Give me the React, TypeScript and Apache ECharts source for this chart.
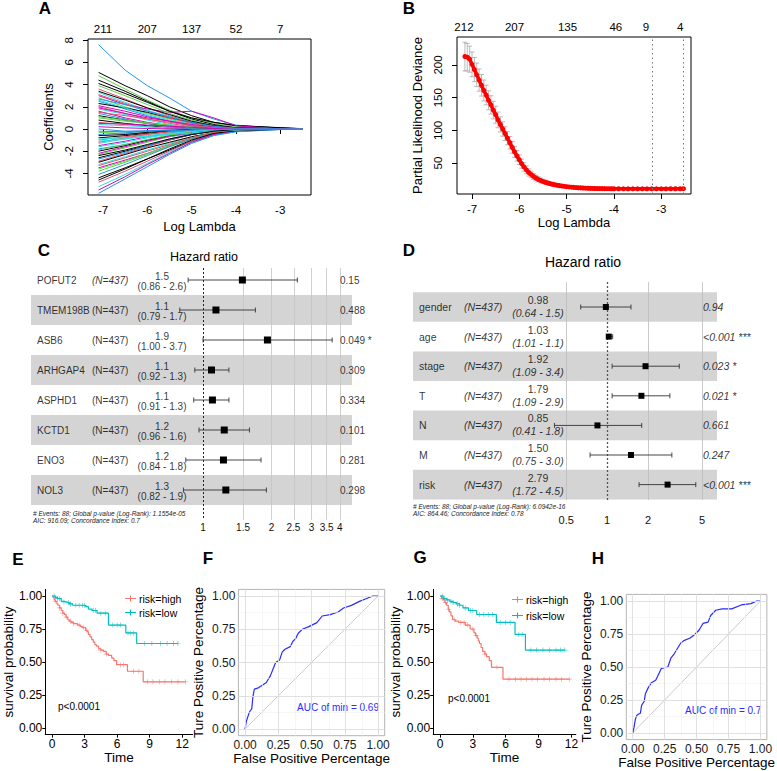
import React, { useEffect, useRef } from "react";
import * as echarts from "echarts";

const FONT = "'Liberation Sans', Arial, Helvetica, sans-serif";

/* ---------------- Panel A: LASSO coefficient paths ---------------- */
const lassoLogLambda = [-7.1, -6.5, -6.0, -5.5, -5.0, -4.5, -4.0, -3.0, -2.5];
const lassoPaths: number[][] = [
  [7.6, 5.3, 3.9, 2.8, 1.6, 0.9, 0.35, 0.08, 0],
  [5.1, 3.9, 3.0, 2.0, 1.2, 0.6, 0.3, 0.1, 0.02],
  [4.8, 3.6, 2.6, 1.7, 1.0, 0.5, 0.2, 0.05, 0],
  [4.1, 3.2, 2.4, 1.6, 1.0, 0.6, 0.3, 0.12, 0.03],
  [3.6, 2.7, 1.9, 1.2, 0.6, 0.2, 0.05, 0, 0],
  [3.3, 2.4, 1.7, 1.1, 0.5, 0.15, 0, 0, 0],
  [3.0, 2.2, 1.8, 1.5, 1.6, 1.0, 0.3, 0, 0],
  [2.8, 2.0, 1.4, 0.9, 0.4, 0.1, 0, 0, 0],
  [2.5, 1.8, 1.2, 0.7, 0.3, 0.05, 0, 0, 0],
  [2.3, 1.9, 1.5, 1.0, 0.6, 0.3, 0.1, 0, 0],
  [2.0, 1.4, 0.9, 0.5, 0.2, 0, 0, 0, 0],
  [1.8, 1.3, 0.8, 0.4, 0.1, 0, 0, 0, 0],
  [1.6, 1.0, 0.6, 0.3, 0.05, 0, 0, 0, 0],
  [1.4, 0.9, 0.5, 0.2, 0, 0, 0, 0, 0],
  [1.2, 0.8, 0.5, 0.3, 0.1, 0, 0, 0, 0],
  [1.0, 0.7, 0.5, 0.35, 0.2, 0.1, 0.05, 0, 0],
  [0.8, 0.5, 0.3, 0.1, 0, 0, 0, 0, 0],
  [0.6, 0.4, 0.2, 0.05, 0, 0, 0, 0, 0],
  [0.4, 0.3, 0.2, 0.1, 0, 0, 0, 0, 0],
  [0.2, 0.1, 0.05, 0, 0, 0, 0, 0, 0],
  [-0.3, -0.4, -0.35, -0.3, -0.2, -0.1, -0.05, 0, 0],
  [-0.5, -0.35, -0.2, -0.1, 0, 0, 0, 0, 0],
  [-0.8, -0.6, -0.4, -0.2, -0.05, 0, 0, 0, 0],
  [-1.0, -0.7, -0.45, -0.25, -0.1, 0, 0, 0, 0],
  [-1.3, -0.9, -0.6, -0.35, -0.15, 0, 0, 0, 0],
  [-1.5, -1.1, -0.7, -0.4, -0.15, 0, 0, 0, 0],
  [-1.8, -1.4, -1.0, -0.7, -0.4, -0.2, -0.08, 0, 0],
  [-2.0, -1.5, -1.0, -0.6, -0.25, -0.05, 0, 0, 0],
  [-2.3, -1.7, -1.2, -0.7, -0.3, -0.05, 0, 0, 0],
  [-2.6, -2.0, -1.5, -1.0, -0.5, -0.2, -0.05, 0, 0],
  [-2.9, -2.2, -1.6, -1.0, -0.5, -0.15, 0, 0, 0],
  [-3.2, -2.5, -1.9, -1.3, -0.7, -0.3, -0.1, 0, 0],
  [-3.5, -2.8, -2.2, -1.5, -0.9, -0.4, -0.2, -0.05, 0],
  [-3.8, -3.0, -2.3, -1.6, -0.9, -0.4, -0.15, 0, 0],
  [-4.1, -3.2, -2.4, -1.6, -0.9, -0.35, -0.1, 0, 0],
  [-4.4, -3.5, -2.7, -1.9, -1.1, -0.5, -0.2, -0.03, 0],
  [-4.8, -3.8, -2.9, -2.0, -1.1, -0.45, -0.15, 0, 0],
  [-5.2, -4.1, -3.1, -2.1, -1.2, -0.55, -0.25, -0.05, 0],
  [-5.5, -4.3, -3.2, -2.2, -1.2, -0.5, -0.2, 0, 0],
  [-5.8, -4.5, -3.4, -2.3, -1.3, -0.6, -0.25, -0.03, 0],
  [4.4, 3.4, 2.5, 1.6, 0.9, 0.4, 0.1, 0, 0],
  [3.9, 3.0, 2.2, 1.4, 0.8, 0.3, 0.05, 0, 0],
  [3.4, 2.6, 1.9, 1.3, 0.7, 0.3, 0.1, 0, 0],
  [3.1, 2.3, 1.6, 1.0, 0.5, 0.2, 0.05, 0, 0],
  [2.6, 1.9, 1.3, 0.8, 0.4, 0.1, 0, 0, 0],
  [1.9, 1.4, 1.0, 0.7, 0.4, 0.2, 0.1, 0.03, 0],
  [1.1, 0.8, 0.55, 0.3, 0.1, 0, 0, 0, 0],
  [0.0, -0.2, -0.15, -0.1, 0, 0, 0, 0, 0],
  [-0.6, -0.5, -0.3, -0.15, -0.05, 0, 0, 0, 0],
  [-1.2, -0.8, -0.5, -0.25, -0.08, 0, 0, 0, 0],
  [-1.6, -1.2, -0.8, -0.45, -0.2, -0.05, 0, 0, 0],
  [-2.2, -1.6, -1.1, -0.65, -0.3, -0.1, 0, 0, 0],
  [-2.7, -2.1, -1.5, -0.9, -0.45, -0.15, 0, 0, 0],
  [-3.0, -2.3, -1.7, -1.2, -0.7, -0.35, -0.15, -0.02, 0],
  [-3.6, -2.9, -2.2, -1.5, -0.8, -0.3, -0.05, 0, 0],
  [-4.6, -3.6, -2.7, -1.8, -1.0, -0.4, -0.1, 0, 0],
  [-3.3, -2.6, -2.0, -1.4, -0.8, -0.3, -0.1, 0, 0],
  [-0.9, -0.8, -0.7, -0.5, -0.35, -0.2, -0.1, 0, 0],
  [2.1, 1.6, 1.1, 0.7, 0.3, 0.05, 0, 0, 0],
  [-1.9, -1.4, -0.95, -0.55, -0.25, -0.05, 0, 0, 0],
  [2.7, 2.2, 1.6, 1.1, 0.6, 0.25, 0.05, 0, 0],
  [-2.4, -1.9, -1.4, -0.9, -0.5, -0.2, -0.05, 0, 0],
  [1.5, 1.2, 0.9, 0.6, 0.3, 0.1, 0, 0, 0],
  [-1.1, -0.9, -0.65, -0.4, -0.2, -0.05, 0, 0, 0],
  [0.5, 0.45, 0.35, 0.25, 0.15, 0.05, 0, 0, 0],
  [-0.2, -0.25, -0.2, -0.15, -0.1, -0.05, 0, 0, 0],
];
const lassoPalette = ["#2297E6", "#000000", "#61D04F", "#000000", "#DF536B", "#28E2E5", "#CD0BBC", "#61D04F", "#2297E6", "#000000", "#DF536B", "#28E2E5", "#CD0BBC"];
const lassoTicks = [-7, -6, -5, -4, -3];
const lassoDfLabels = ["211", "207", "137", "52", "7"];
const lassoYTicks = [-4, -2, 0, 2, 4, 6, 8];

/* ---------------- Panel B: CV deviance ---------------- */
const cvLogLambda = [
  -7.15, -7.1, -7.05, -7.0, -6.95, -6.9, -6.85, -6.8, -6.75, -6.7, -6.65, -6.6, -6.55, -6.5, -6.45, -6.4,
  -6.35, -6.3, -6.25, -6.2, -6.15, -6.1, -6.05, -6.0, -5.95, -5.9, -5.85, -5.8, -5.75, -5.7, -5.65, -5.6,
  -5.55, -5.5, -5.45, -5.4, -5.35, -5.3, -5.25, -5.2, -5.15, -5.1, -5.05, -5.0, -4.95, -4.9, -4.85, -4.8,
  -4.75, -4.7, -4.65, -4.6, -4.55, -4.5, -4.45, -4.4, -4.35, -4.3, -4.25, -4.2, -4.15, -4.1, -4.05, -4.0,
  -3.9, -3.8, -3.7, -3.6, -3.5, -3.4, -3.3, -3.2, -3.1, -3.0, -2.9, -2.8, -2.7, -2.6, -2.53,
];
const cvDeviance = [
  213, 212, 209, 201, 193, 185, 177, 169, 161, 154, 146, 139, 131, 124, 116, 109,
  102, 95, 88, 81, 74, 67, 61, 55, 49, 44, 39.5, 35.5, 32.5, 29.5, 27, 25,
  23.3, 21.8, 20.5, 19.4, 18.4, 17.5, 16.7, 16.0, 15.4, 14.8, 14.3, 13.8, 13.4, 13.0, 12.7, 12.4,
  12.1, 11.9, 11.7, 11.5, 11.4, 11.2, 11.1, 11.0, 10.9, 10.85, 10.8, 10.75, 10.7, 10.65, 10.6, 10.6,
  10.55, 10.5, 10.5, 10.5, 10.45, 10.45, 10.45, 10.45, 10.5, 10.5, 10.5, 10.55, 10.6, 10.6, 10.65,
];
const cvSE = [
  22, 21, 20, 19, 18.5, 18, 17, 16.5, 16, 15, 14.5, 14, 13.5, 13, 12, 11.5,
  11, 10.5, 10, 9.5, 9, 8.5, 8, 7.5, 7, 6.5, 6, 5.5, 5, 4.5, 4.2, 3.9,
  3.6, 3.3, 3.0, 2.8, 2.6, 2.4, 2.2, 2.0, 1.9, 1.8, 1.7, 1.6, 1.5, 1.4, 1.35, 1.3,
  1.25, 1.2, 1.2, 1.15, 1.1, 1.1, 1.05, 1.0, 1.0, 1.0, 1.0, 1.0, 1.0, 1.0, 1.0, 1.0,
  1.0, 1.0, 1.0, 1.0, 1.0, 1.0, 1.0, 1.0, 1.0, 1.0, 1.0, 1.0, 1.0, 1.0, 1.0,
];
const cvTicks = [-7, -6, -5, -4, -3];
const cvDfPositions = [-7.17, -6.1, -4.98, -3.96, -3.32, -2.6];
const cvDfLabels = ["212", "207", "135", "46", "9", "4"];
const cvYTicks = [50, 100, 150, 200];
const cvLambdaMin = -3.19;
const cvLambda1se = -2.53;

/* ---------------- Panel C: forest (genes) ---------------- */
const genesC = ["POFUT2", "TMEM198B", "ASB6", "ARHGAP4", "ASPHD1", "KCTD1", "ENO3", "NOL3"];
const hrC = [1.49, 1.14, 1.92, 1.09, 1.1, 1.24, 1.23, 1.26];
const loC = [0.86, 0.79, 1.0, 0.92, 0.91, 0.96, 0.84, 0.82];
const hiC = [2.6, 1.7, 3.7, 1.3, 1.3, 1.6, 1.8, 1.9];
const hrTextC = ["1.5", "1.1", "1.9", "1.1", "1.1", "1.2", "1.2", "1.3"];
const ciTextC = ["(0.86 - 2.6)", "(0.79 - 1.7)", "(1.00 - 3.7)", "(0.92 - 1.3)", "(0.91 - 1.3)", "(0.96 - 1.6)", "(0.84 - 1.8)", "(0.82 - 1.9)"];
const pTextC = ["0.15", "0.488", "0.049 *", "0.309", "0.334", "0.101", "0.281", "0.298"];
const nTextC = "(N=437)";
const hrTicksC = [1, 1.5, 2, 2.5, 3, 3.5, 4];
const footC = ["# Events: 88; Global p-value (Log-Rank): 1.1554e-05", "AIC: 916.09; Concordance Index: 0.7"];

/* ---------------- Panel D: forest (clinical) ---------------- */
const varsD = ["gender", "age", "stage", "T", "N", "M", "risk"];
const hrD = [0.98, 1.03, 1.92, 1.79, 0.85, 1.5, 2.79];
const loD = [0.64, 1.01, 1.09, 1.09, 0.41, 0.75, 1.72];
const hiD = [1.5, 1.1, 3.4, 2.9, 1.8, 3.0, 4.5];
const hrTextD = ["0.98", "1.03", "1.92", "1.79", "0.85", "1.50", "2.79"];
const ciTextD = ["(0.64 - 1.5)", "(1.01 - 1.1)", "(1.09 - 3.4)", "(1.09 - 2.9)", "(0.41 - 1.8)", "(0.75 - 3.0)", "(1.72 - 4.5)"];
const pTextD = ["0.94", "<0.001 ***", "0.023 *", "0.021 *", "0.661", "0.247", "<0.001 ***"];
const nTextD = "(N=437)";
const hrTicksD = [0.5, 1, 2, 5];
const footD = ["# Events: 88; Global p-value (Log-Rank): 6.0942e-16", "AIC: 864.46; Concordance Index: 0.78"];

/* ---------------- Panels E, G: Kaplan-Meier ---------------- */
const kmTicksX = [0, 3, 6, 9, 12];
const kmTicksY = [0, 0.25, 0.5, 0.75, 1];
const eHighT = [0, 0.1, 0.2, 0.3, 0.45, 0.55, 0.7, 0.85, 1.0, 1.15, 1.3, 1.45, 1.6, 1.75, 2.0, 2.35, 2.6, 2.8, 3.1, 3.25, 3.35, 3.5, 3.65, 3.8, 3.95, 4.1, 4.3, 4.5, 4.75, 5.0, 5.2, 5.5, 5.7, 5.95, 6.95, 8.4, 12.3];
const eHighS = [1, 0.99, 0.97, 0.96, 0.94, 0.93, 0.91, 0.89, 0.87, 0.86, 0.84, 0.82, 0.81, 0.8, 0.79, 0.78, 0.77, 0.76, 0.74, 0.73, 0.71, 0.69, 0.67, 0.65, 0.63, 0.62, 0.6, 0.59, 0.58, 0.56, 0.55, 0.53, 0.51, 0.48, 0.43, 0.35, 0.35];
const eLowT = [0, 0.3, 0.5, 0.85, 1.1, 1.3, 1.6, 1.9, 3.1, 3.35, 3.7, 4.15, 5.2, 6.8, 7.8, 11.6];
const eLowS = [1, 0.99, 0.98, 0.96, 0.955, 0.95, 0.94, 0.93, 0.92, 0.9, 0.89, 0.87, 0.78, 0.72, 0.64, 0.64];
const eHighCens = [0.3, 0.7, 1.0, 1.3, 1.7, 2.0, 2.5, 2.9, 3.2, 4.5, 5.0, 6.3, 6.6, 7.5, 8.0, 8.8, 9.3, 9.9, 10.4, 11.0, 11.6, 12.3];
const eLowCens = [0.2, 0.5, 0.7, 1.1, 1.5, 1.7, 2.2, 2.5, 2.8, 3.0, 3.8, 4.0, 4.5, 4.9, 5.6, 6.0, 6.3, 7.0, 7.2, 7.5, 8.5, 9.2, 10.0, 10.6, 11.2, 11.6];
const gHighT = [0, 0.15, 0.3, 0.45, 0.6, 0.75, 0.85, 1.0, 1.15, 1.4, 1.7, 2.3, 2.75, 3.1, 3.25, 3.4, 3.5, 3.6, 3.75, 3.9, 4.1, 4.25, 4.5, 4.7, 5.75, 11.8];
const gHighS = [1, 0.98, 0.97, 0.95, 0.93, 0.9, 0.88, 0.85, 0.82, 0.81, 0.8, 0.78, 0.75, 0.72, 0.7, 0.68, 0.66, 0.64, 0.61, 0.58, 0.56, 0.54, 0.51, 0.46, 0.37, 0.37];
const gLowT = [0, 0.3, 0.6, 0.9, 1.2, 1.5, 1.8, 2.1, 2.6, 3.35, 5.15, 6.85, 7.8, 11.4];
const gLowS = [1, 0.98, 0.97, 0.96, 0.95, 0.94, 0.93, 0.91, 0.89, 0.86, 0.8, 0.71, 0.59, 0.59];
const gHighCens = [0.2, 0.5, 0.8, 1.3, 1.9, 2.2, 2.5, 3.0, 3.3, 4.1, 5.2, 6.3, 6.9, 7.4, 7.9, 8.4, 8.9, 9.5, 10.0, 10.6, 11.1, 11.8];
const gLowCens = [0.2, 0.4, 0.7, 1.0, 1.2, 1.6, 1.8, 2.3, 2.8, 3.0, 3.6, 4.0, 4.4, 4.8, 5.5, 6.0, 6.4, 7.2, 7.5, 8.3, 8.8, 9.4, 10.0, 10.6, 11.0, 11.4];

/* ---------------- Panels F, H: ROC ---------------- */
const rocTicks = [0, 0.25, 0.5, 0.75, 1];
const rocMinor = [0.125, 0.375, 0.625, 0.875];
const fFpr = [0, 0.005, 0.01, 0.02, 0.03, 0.04, 0.05, 0.055, 0.06, 0.07, 0.1, 0.13, 0.16, 0.19, 0.21, 0.23, 0.26, 0.28, 0.3, 0.34, 0.36, 0.38, 0.4, 0.43, 0.48, 0.54, 0.58, 0.64, 0.7, 0.74, 0.8, 0.86, 0.91, 0.96, 1.0];
const fTpr = [0, 0.03, 0.06, 0.09, 0.12, 0.14, 0.15, 0.2, 0.25, 0.3, 0.31, 0.33, 0.35, 0.4, 0.45, 0.5, 0.52, 0.58, 0.6, 0.62, 0.66, 0.68, 0.72, 0.75, 0.77, 0.8, 0.85, 0.86, 0.88, 0.91, 0.93, 0.96, 0.98, 1.0, 1.0];
const hFpr = [0, 0.01, 0.02, 0.03, 0.04, 0.06, 0.07, 0.09, 0.1, 0.12, 0.145, 0.18, 0.2, 0.225, 0.275, 0.3, 0.325, 0.35, 0.375, 0.4, 0.45, 0.49, 0.52, 0.55, 0.59, 0.61, 0.65, 0.7, 0.775, 0.85, 0.925, 0.97, 1.0];
const hTpr = [0, 0.04, 0.1, 0.13, 0.14, 0.15, 0.21, 0.24, 0.3, 0.34, 0.38, 0.4, 0.44, 0.49, 0.5, 0.57, 0.6, 0.64, 0.68, 0.7, 0.72, 0.75, 0.78, 0.83, 0.84, 0.89, 0.93, 0.94, 0.94, 0.97, 0.98, 1.0, 1.0];
const aucF = "AUC of min = 0.69";
const aucH = "AUC of min = 0.7";

const HIGH = "#F8766D";
const LOW = "#00BFC4";
const ROC_BLUE = "#2b2bff";

function survAt(t: number[], s: number[], x: number) {
  let v = s[0];
  for (let i = 0; i < t.length; i++) if (t[i] <= x) v = s[i];
  return v;
}

const lnFmt = (v: number) => String(Math.round(Math.exp(v) * 10) / 10);

function forestRender(sq: number) {
  return (params: any, api: any) => {
    const y = api.value(3);
    const a = api.coord([api.value(0), y]);
    const b = api.coord([api.value(1), y]);
    const c = api.coord([api.value(2), y]);
    const st = { stroke: "#333", lineWidth: 0.9 };
    return {
      type: "group",
      children: [
        { type: "line", shape: { x1: a[0], y1: a[1], x2: b[0], y2: b[1] }, style: st },
        { type: "line", shape: { x1: a[0], y1: a[1] - 2.5, x2: a[0], y2: a[1] + 2.5 }, style: st },
        { type: "line", shape: { x1: b[0], y1: b[1] - 2.5, x2: b[0], y2: b[1] + 2.5 }, style: st },
        { type: "rect", shape: { x: c[0] - sq / 2, y: c[1] - sq / 2, width: sq, height: sq }, style: { fill: "#000" } },
      ],
    };
  };
}

function textCol(xi: number, yi: number, x: number, texts: string[], opt: any, itemLabel?: (i: number) => any) {
  return {
    type: "scatter",
    xAxisIndex: xi,
    yAxisIndex: yi,
    symbolSize: 0,
    silent: true,
    itemStyle: { color: "rgba(0,0,0,0)" },
    data: texts.map((_, i) => {
      const d: any = { value: [x, i] };
      if (itemLabel) d.label = itemLabel(i);
      return d;
    }),
    label: {
      show: true,
      color: "#000",
      fontFamily: FONT,
      formatter: (p: any) => texts[p.dataIndex],
      ...opt,
    },
    z: 5,
  };
}

function gridLinesSeries(xi: number, yi: number, lines: any[]) {
  return {
    type: "line",
    xAxisIndex: xi,
    yAxisIndex: yi,
    data: [],
    symbol: "none",
    silent: true,
    markLine: { silent: true, symbol: "none", label: { show: false }, data: lines, animation: false },
  };
}

function rocAxes(gi: number) {
  const common = {
    gridIndex: gi,
    type: "value",
    min: -0.05,
    max: 1.05,
    axisLine: { show: false },
    axisTick: { show: true, length: 3, lineStyle: { color: "#b3b3b3" }, customValues: rocTicks },
    axisLabel: { customValues: rocTicks, formatter: (v: number) => v.toFixed(2), fontSize: 12, color: "#1a1a1a", fontFamily: FONT, margin: 3 },
    splitLine: { show: false },
    nameLocation: "middle",
    nameTextStyle: { fontSize: 13.5, fontFamily: FONT, color: "#000" },
  };
  return {
    x: { ...common, name: "False Positive Percentage", nameGap: 16 },
    y: { ...common, name: "Ture Positive Percentage", nameGap: 33 },
  };
}

function rocSeries(xi: number, yi: number, fpr: number[], tpr: number[]) {
  const lines: any[] = [];
  rocMinor.forEach((v) => {
    lines.push({ xAxis: v, lineStyle: { color: "#f0f0f0", width: 0.6, type: "solid" } });
    lines.push({ yAxis: v, lineStyle: { color: "#f0f0f0", width: 0.6, type: "solid" } });
  });
  rocTicks.forEach((v) => {
    lines.push({ xAxis: v, lineStyle: { color: "#dedede", width: 0.9, type: "solid" } });
    lines.push({ yAxis: v, lineStyle: { color: "#dedede", width: 0.9, type: "solid" } });
  });
  return [
    gridLinesSeries(xi, yi, lines),
    {
      type: "line", xAxisIndex: xi, yAxisIndex: yi, symbol: "none", silent: true,
      data: [[0, 0], [1, 1]], lineStyle: { color: "#bdbdbd", width: 0.8 },
    },
    {
      type: "line", xAxisIndex: xi, yAxisIndex: yi, symbol: "none", silent: true,
      data: fpr.map((x, i) => [x, tpr[i]]), lineStyle: { color: ROC_BLUE, width: 1.2 },
    },
  ];
}

function kmAxes(gi: number, xmax: number) {
  const common = {
    gridIndex: gi,
    type: "value",
    axisLine: { show: true, onZero: false, lineStyle: { color: "#000", width: 1 } },
    splitLine: { show: false },
    nameLocation: "middle",
    nameTextStyle: { fontSize: 13.5, fontFamily: FONT, color: "#000" },
  };
  return {
    x: {
      ...common, min: -0.62, max: xmax, name: "Time", nameGap: 15,
      axisTick: { show: true, length: 3, lineStyle: { color: "#000" }, customValues: kmTicksX },
      axisLabel: { customValues: kmTicksX, fontSize: 12, color: "#000", fontFamily: FONT, margin: 3 },
    },
    y: {
      ...common, min: -0.05, max: 1.05, name: "survival probability", nameGap: 25,
      axisTick: { show: true, length: 3, lineStyle: { color: "#000" }, customValues: kmTicksY },
      axisLabel: { customValues: kmTicksY, formatter: (v: number) => v.toFixed(2), fontSize: 12, color: "#000", fontFamily: FONT, margin: 3 },
    },
  };
}

const PLUS = "path://M4.4,0H5.6V4.4H10V5.6H5.6V10H4.4V5.6H0V4.4H4.4Z";

function kmSeries(xi: number, yi: number, hT: number[], hS: number[], lT: number[], lS: number[], hC: number[], lC: number[]) {
  return [
    { type: "line", name: "risk=high", xAxisIndex: xi, yAxisIndex: yi, step: "end", symbol: "none", silent: true, color: HIGH, lineStyle: { color: HIGH, width: 1.2 }, data: hT.map((t, i) => [t, hS[i]]) },
    { type: "line", name: "risk=low", xAxisIndex: xi, yAxisIndex: yi, step: "end", symbol: "none", silent: true, color: LOW, lineStyle: { color: LOW, width: 1.2 }, data: lT.map((t, i) => [t, lS[i]]) },
    { type: "scatter", name: "cens-high", xAxisIndex: xi, yAxisIndex: yi, symbol: PLUS, symbolSize: 5, silent: true, itemStyle: { color: HIGH }, data: hC.map((t) => [t, survAt(hT, hS, t)]) },
    { type: "scatter", name: "cens-low", xAxisIndex: xi, yAxisIndex: yi, symbol: PLUS, symbolSize: 5, silent: true, itemStyle: { color: LOW }, data: lC.map((t) => [t, survAt(lT, lS, t)]) },
  ];
}

function txt(text: string, x: number, y: number, o: any = {}) {
  const align = o.align || "left";
  return {
    type: "text",
    x,
    y,
    silent: true,
    style: {
      text,
      fontSize: o.fontSize || 11,
      fontWeight: o.fontWeight || "normal",
      fontStyle: o.fontStyle || "normal",
      fontFamily: FONT,
      fill: o.fill || "#000",
      align,
      textAlign: align,
      verticalAlign: "middle",
      textVerticalAlign: "middle",
    },
  };
}

function buildOption() {
  const rocF = rocAxes(7);
  const rocH = rocAxes(9);
  const kmE = kmAxes(6, 12.95);
  const kmG = kmAxes(8, 12.4);

  const rAxisLbl = { fontSize: 11.5, color: "#000", fontFamily: FONT };
  const nameStyle = { fontSize: 13, color: "#000", fontFamily: FONT };

  const grid = [
    { left: 88, top: 39, width: 223, height: 156, show: true, borderColor: "#000", borderWidth: 1, backgroundColor: "transparent" },
    { left: 457, top: 37, width: 234, height: 157, show: true, borderColor: "#000", borderWidth: 1, backgroundColor: "transparent" },
    { left: 31, top: 265, width: 321, height: 240 },
    { left: 173.4, top: 268, width: 177.7, height: 252 },
    { left: 413, top: 292.2, width: 304, height: 207.2 },
    { left: 551, top: 282, width: 159.3, height: 218 },
    { left: 42.2, top: 589.4, width: 150.4, height: 145.2 },
    { left: 238.4, top: 589.4, width: 146.3, height: 146.3, show: true, borderColor: "#b3b3b3", borderWidth: 1, backgroundColor: "#fff" },
    { left: 433.2, top: 589.4, width: 142.6, height: 145.2 },
    { left: 626.3, top: 594.4, width: 147.4, height: 145.2, show: true, borderColor: "#b3b3b3", borderWidth: 1, backgroundColor: "#fff" },
  ];

  const xAxis: any[] = [
    {
      gridIndex: 0, type: "value", min: -7.339, max: -2.305, position: "bottom",
      axisLine: { show: false }, splitLine: { show: false },
      axisTick: { show: true, length: 5, lineStyle: { color: "#000" }, customValues: lassoTicks },
      axisLabel: { ...rAxisLbl, customValues: lassoTicks, margin: 9 },
      name: "Log Lambda", nameLocation: "middle", nameGap: 25, nameTextStyle: nameStyle,
    },
    {
      gridIndex: 0, type: "value", min: -7.339, max: -2.305, position: "top",
      axisLine: { show: false }, splitLine: { show: false }, axisTick: { show: false },
      axisLabel: { ...rAxisLbl, customValues: lassoTicks, margin: 4, formatter: (v: number) => lassoDfLabels[lassoTicks.findIndex((t) => Math.abs(t - v) < 1e-6)] },
    },
    {
      gridIndex: 1, type: "value", min: -7.317, max: -2.37, position: "bottom",
      axisLine: { show: false }, splitLine: { show: false },
      axisTick: { show: true, length: 5, lineStyle: { color: "#000" }, customValues: cvTicks },
      axisLabel: { ...rAxisLbl, customValues: cvTicks, margin: 8.5 },
      name: "Log Lambda", nameLocation: "middle", nameGap: 22, nameTextStyle: nameStyle,
    },
    {
      gridIndex: 1, type: "value", min: -7.317, max: -2.37, position: "top",
      axisLine: { show: false }, splitLine: { show: false }, axisTick: { show: false },
      axisLabel: { ...rAxisLbl, customValues: cvDfPositions, margin: 4, formatter: (v: number) => cvDfLabels[cvDfPositions.findIndex((t) => Math.abs(t - v) < 1e-6)] },
    },
    { gridIndex: 2, type: "value", min: 0, max: 321, show: false },
    {
      gridIndex: 3, type: "value", min: -0.3, max: 1.5,
      axisLine: { show: false }, axisTick: { show: false }, splitLine: { show: false },
      axisLabel: { customValues: hrTicksC.map(Math.log), formatter: lnFmt, fontSize: 10, color: "#111", fontFamily: FONT, margin: 2 },
    },
    { gridIndex: 4, type: "value", min: 0, max: 304, show: false },
    {
      gridIndex: 5, type: "value", min: -0.95, max: 1.75,
      axisLine: { show: false }, axisTick: { show: false }, splitLine: { show: false },
      axisLabel: { customValues: hrTicksD.map(Math.log), formatter: lnFmt, fontSize: 11, color: "#111", fontFamily: FONT, margin: 14 },
    },
    kmE.x,
    rocF.x,
    kmG.x,
    rocH.x,
  ];

  const yAxis: any[] = [
    {
      gridIndex: 0, type: "value", min: -5.95, max: 8.11,
      axisLine: { show: false }, splitLine: { show: false },
      axisTick: { show: true, length: 5, lineStyle: { color: "#000" }, customValues: lassoYTicks },
      axisLabel: { ...rAxisLbl, customValues: lassoYTicks, rotate: 90, margin: 13 },
      name: "Coefficients", nameLocation: "middle", nameGap: 33, nameTextStyle: nameStyle,
    },
    {
      gridIndex: 1, type: "value", min: 2.55, max: 242.9,
      axisLine: { show: false }, splitLine: { show: false },
      axisTick: { show: true, length: 5, lineStyle: { color: "#000" }, customValues: cvYTicks },
      axisLabel: { ...rAxisLbl, customValues: cvYTicks, rotate: 90, margin: 13 },
      name: "Partial Likelihood Deviance", nameLocation: "middle", nameGap: 33, nameTextStyle: nameStyle,
    },
    { gridIndex: 2, type: "category", data: genesC, inverse: true, show: false },
    { gridIndex: 3, type: "value", min: -0.4, max: 8.0, inverse: true, show: false },
    { gridIndex: 4, type: "category", data: varsD, inverse: true, show: false },
    { gridIndex: 5, type: "value", min: -0.845, max: 6.52, inverse: true, show: false },
    kmE.y,
    rocF.y,
    kmG.y,
    rocH.y,
  ];

  const series: any[] = [];

  // A
  lassoPaths.forEach((p, k) => {
    series.push({
      type: "line", xAxisIndex: 0, yAxisIndex: 0, symbol: "none", silent: true,
      lineStyle: { width: 1, color: lassoPalette[k % lassoPalette.length] },
      data: lassoLogLambda.map((x, i) => [x, p[i]]),
    });
  });

  // B
  series.push({
    type: "custom", xAxisIndex: 2, yAxisIndex: 1, silent: true,
    encode: { x: 0, y: [1, 2] },
    data: cvLogLambda.map((x, i) => [x, cvDeviance[i] - cvSE[i], cvDeviance[i] + cvSE[i]]),
    renderItem: (params: any, api: any) => {
      const x = api.value(0);
      const p1 = api.coord([x, api.value(2)]);
      const p2 = api.coord([x, api.value(1)]);
      const st = { stroke: "#a8a8a8", lineWidth: 0.8 };
      return {
        type: "group",
        children: [
          { type: "line", shape: { x1: p1[0], y1: p1[1], x2: p2[0], y2: p2[1] }, style: st },
          { type: "line", shape: { x1: p1[0] - 2.5, y1: p1[1], x2: p1[0] + 2.5, y2: p1[1] }, style: st },
          { type: "line", shape: { x1: p2[0] - 2.5, y1: p2[1], x2: p2[0] + 2.5, y2: p2[1] }, style: st },
        ],
      };
    },
  });
  series.push({
    type: "line", xAxisIndex: 2, yAxisIndex: 1, silent: true,
    symbol: "circle", symbolSize: 5, itemStyle: { color: "#ff0000" },
    lineStyle: { color: "#ff0000", width: 3.5 },
    data: cvLogLambda.map((x, i) => [x, cvDeviance[i]]),
    markLine: {
      silent: true, symbol: "none", label: { show: false },
      lineStyle: { color: "#777", type: [1.5, 3], width: 1 },
      data: [{ xAxis: cvLambdaMin }, { xAxis: cvLambda1se }],
    },
  });

  // C
  series.push({
    type: "bar", xAxisIndex: 4, yAxisIndex: 2, silent: true, barWidth: "100%",
    itemStyle: { color: "#d4d4d4" },
    data: genesC.map((_, i) => (i % 2 === 1 ? 321 : "-")),
  });
  series.push(gridLinesSeries(5, 3, [
    ...hrTicksC.slice(1).map((v) => ({ xAxis: Math.log(v), lineStyle: { color: "#c4c4c4", width: 0.8, type: "solid" } })),
    { xAxis: 0, lineStyle: { color: "#222", width: 1, type: [2, 2] } },
  ]));
  series.push(textCol(4, 2, 6, genesC, { position: "right", distance: 0, fontSize: 10 }));
  series.push(textCol(4, 2, 61, genesC.map(() => nTextC), { position: "right", distance: 0, fontSize: 10 }, (i) => (i === 0 ? { fontStyle: "italic" } : undefined)));
  series.push(textCol(4, 2, 131, hrTextC, { position: "inside", offset: [0, -4], fontSize: 10 }));
  series.push(textCol(4, 2, 131, ciTextC, { position: "inside", offset: [0, 6.5], fontSize: 10 }));
  series.push(textCol(4, 2, 309, pTextC, { position: "right", distance: 0, fontSize: 10 }));
  series.push({
    type: "custom", xAxisIndex: 5, yAxisIndex: 3, silent: true, z: 6,
    encode: { x: [0, 1, 2], y: 3 },
    data: genesC.map((_, i) => [Math.log(loC[i]), Math.log(hiC[i]), Math.log(hrC[i]), i]),
    renderItem: forestRender(7),
  });

  // D
  series.push({
    type: "bar", xAxisIndex: 6, yAxisIndex: 4, silent: true, barWidth: "100%",
    itemStyle: { color: "#d4d4d4" },
    data: varsD.map((_, i) => (i % 2 === 0 ? 304 : "-")),
  });
  series.push(gridLinesSeries(7, 5, [
    ...[0.5, 2, 5].map((v) => ({ xAxis: Math.log(v), lineStyle: { color: "#bdbdbd", width: 0.8, type: "solid" } })),
    { xAxis: 0, lineStyle: { color: "#555", width: 1.3, type: [2, 2] } },
  ]));
  series.push(textCol(6, 4, 6, varsD, { position: "right", distance: 0, fontSize: 10.5 }));
  series.push(textCol(6, 4, 51, varsD.map(() => nTextD), { position: "right", distance: 0, fontSize: 10.5, fontStyle: "italic" }));
  series.push(textCol(6, 4, 125, hrTextD, { position: "inside", offset: [0, -7], fontSize: 10.5 }));
  series.push(textCol(6, 4, 125, ciTextD, { position: "inside", offset: [0, 6], fontSize: 10.5, fontStyle: "italic" }));
  series.push(textCol(6, 4, 290, pTextD, { position: "right", distance: 0, fontSize: 10.5, fontStyle: "italic" }));
  series.push({
    type: "custom", xAxisIndex: 7, yAxisIndex: 5, silent: true, z: 6,
    encode: { x: [0, 1, 2], y: 3 },
    data: varsD.map((_, i) => [Math.log(loD[i]), Math.log(hiD[i]), Math.log(hrD[i]), i]),
    renderItem: forestRender(6),
  });

  // E, G
  series.push(...kmSeries(8, 6, eHighT, eHighS, eLowT, eLowS, eHighCens, eLowCens));
  series.push(...kmSeries(10, 8, gHighT, gHighS, gLowT, gLowS, gHighCens, gLowCens));

  // F, H
  series.push(...rocSeries(9, 7, fFpr, fTpr));
  series.push(...rocSeries(11, 9, hFpr, hTpr));

  const legendIcon = "path://M0,4.4H12V5.6H0Z M5.4,1.6H6.6V8.4H5.4Z";
  const legend = [
    {
      data: ["risk=high", "risk=low"], left: 120, top: 588, orient: "vertical", icon: legendIcon,
      itemWidth: 11, itemHeight: 8, itemGap: 3, selectedMode: false,
      textStyle: { fontSize: 10.5, fontFamily: FONT, color: "#000", padding: [0, 0, 0, -2] },
    },
    {
      data: ["risk=high", "risk=low"], left: 507, top: 589, orient: "vertical", icon: legendIcon,
      itemWidth: 11, itemHeight: 8, itemGap: 5, selectedMode: false,
      textStyle: { fontSize: 10.5, fontFamily: FONT, color: "#000", padding: [0, 0, 0, -2] },
    },
  ];

  const graphic = [
    txt("A", 45, 8, { fontSize: 17, fontWeight: "bold", align: "center" }),
    txt("B", 409, 8, { fontSize: 17, fontWeight: "bold", align: "center" }),
    txt("C", 44, 250, { fontSize: 17, fontWeight: "bold", align: "center" }),
    txt("D", 409, 250, { fontSize: 17, fontWeight: "bold", align: "center" }),
    txt("E", 18, 559, { fontSize: 17, fontWeight: "bold", align: "center" }),
    txt("F", 208, 558, { fontSize: 17, fontWeight: "bold", align: "center" }),
    txt("G", 420, 557, { fontSize: 17, fontWeight: "bold", align: "center" }),
    txt("H", 598, 558, { fontSize: 17, fontWeight: "bold", align: "center" }),
    txt("Hazard ratio", 204, 257, { fontSize: 12.5, align: "center" }),
    txt("Hazard ratio", 583, 262, { fontSize: 14, align: "center" }),
    txt(footC[0], 33, 513, { fontSize: 6.5, fontStyle: "italic", fill: "#222" }),
    txt(footC[1], 33, 520, { fontSize: 6.5, fontStyle: "italic", fill: "#222" }),
    txt(footD[0], 413, 506, { fontSize: 6.5, fontStyle: "italic", fill: "#222" }),
    txt(footD[1], 413, 513, { fontSize: 6.5, fontStyle: "italic", fill: "#222" }),
    txt("p<0.0001", 58, 706, { fontSize: 10 }),
    txt("p<0.0001", 448, 698, { fontSize: 10 }),
    txt(aucF, 297, 707, { fontSize: 10, fill: ROC_BLUE }),
    txt(aucH, 685, 710, { fontSize: 10, fill: ROC_BLUE }),
  ];

  return {
    animation: false,
    backgroundColor: "#fff",
    textStyle: { fontFamily: FONT },
    grid,
    xAxis,
    yAxis,
    legend,
    series,
    graphic,
  };
}

export default function App() {
  const ref = useRef<HTMLDivElement>(null);
  useEffect(() => {
    const chart = echarts.init(ref.current!, null, { renderer: "svg" });
    chart.setOption(buildOption() as any);
    return () => chart.dispose();
  }, []);
  return <div ref={ref} style={{ position: "fixed", left: 0, top: 0, width: 777, height: 771 }} />;
}
